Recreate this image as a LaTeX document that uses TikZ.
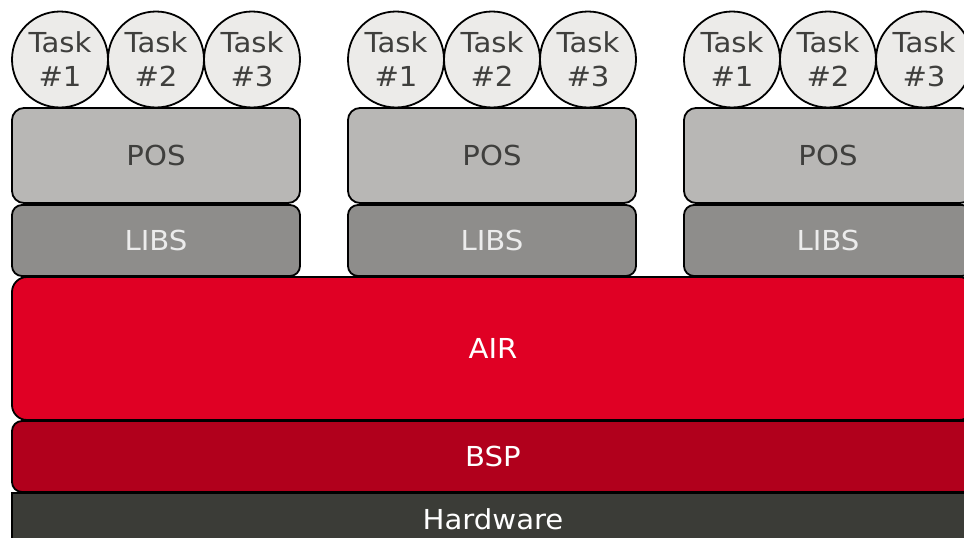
\documentclass[tikz,border=0pt]{standalone}
\usepackage{fontspec}
\setmainfont[FakeStretch=1.06]{DejaVu Sans}
\definecolor{taskfill}{HTML}{ECEBE9}
\definecolor{posfill}{HTML}{B8B7B5}
\definecolor{libsfill}{HTML}{8E8D8B}
\definecolor{airfill}{HTML}{E00024}
\definecolor{bspfill}{HTML}{B1001C}
\definecolor{hwfill}{HTML}{3B3C37}
\definecolor{darktext}{HTML}{3F3F3D}
\definecolor{lighttext}{HTML}{ECECEC}
\tikzset{
  layer/.style={draw=black, line width=1.8pt, inner sep=0pt, font=\fontsize{27.5}{34}\selectfont},
  taskcircle/.style={layer, circle, fill=taskfill, text=darktext, minimum size=96pt, align=center},
  posbox/.style={layer, rectangle, rounded corners=12pt, fill=posfill, text=darktext, minimum width=288pt, minimum height=95pt},
  libsbox/.style={layer, rectangle, rounded corners=10pt, fill=libsfill, text=lighttext, minimum width=288pt, minimum height=71pt},
  airbox/.style={layer, rectangle, rounded corners=15pt, fill=airfill, text=white, minimum width=962pt, minimum height=143pt},
  bspbox/.style={layer, rectangle, rounded corners=10pt, fill=bspfill, text=white, minimum width=962pt, minimum height=71pt},
  hwbox/.style={layer, rectangle, fill=hwfill, text=white, minimum width=962pt, minimum height=52pt},
}
\begin{document}
\begin{tikzpicture}[x=1pt, y=-1pt]
  \useasboundingbox (0,0) rectangle (964,538);
  \clip (0,0) rectangle (964,538);

  % three partitions: POS + LIBS with three tasks each
  \foreach \p/\x in {a/12, b/348, c/684} {
    \node[libsbox] (libs\p) at (\x+144, 240.5) {LIBS};
    \node[posbox]  (pos\p)  at (\x+144, 155.5) {POS};
    \node[taskcircle] (\p task1) at (\x+48,  59.5) {Task\\\#1};
    \node[taskcircle] (\p task2) at (\x+144, 59.5) {Task\\\#2};
    \node[taskcircle] (\p task3) at (\x+240, 59.5) {Task\\\#3};
  }

  % shared layers underneath
  \node[hwbox]  (hw)  at (493, 519) {Hardware};
  \node[bspbox] (bsp) at (493, 456.5) {BSP};
  \node[airbox] (air) at (493, 348.5) {AIR};
\end{tikzpicture}
\end{document}
